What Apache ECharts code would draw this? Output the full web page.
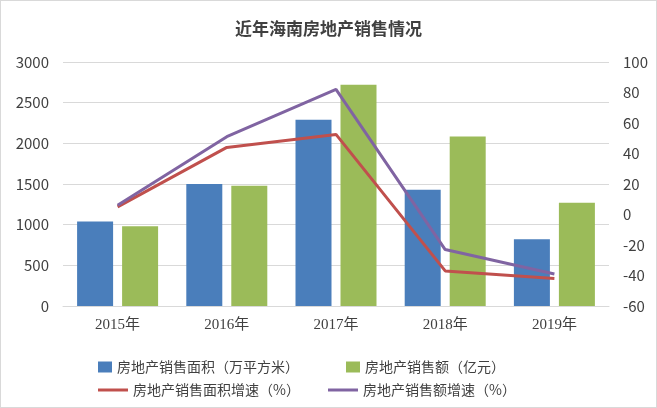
<!DOCTYPE html><html><head><meta charset="utf-8"><script src="https://cdn.jsdelivr.net/npm/echarts@6/dist/echarts.min.js"></script>
<style>html,body{margin:0;padding:0;background:#fff}#c{width:657px;height:408px;box-sizing:border-box;border:1px solid #d9d9d9}</style></head><body><div id="c"></div><script>
const categories=['2015年','2016年','2017年','2018年','2019年'];
const area=[1040,1500,2290,1430,820];
const sales=[980,1480,2720,2085,1270];
const areaGrowth=[5,44,52.5,-37,-42];
const salesGrowth=[6,51,82,-23,-39];
const ch=echarts.init(document.getElementById('c'));
const f='"Noto Sans CJK SC",sans-serif';
const lt={fontSize:14,color:'#404040'};
function lg(name,left,top,line){return {data:[name],left:left,top:top,itemWidth:line?30:14,itemHeight:line?3:11,icon:'rect',itemGap:8,textStyle:lt};}
ch.setOption({
 animation:false,
 textStyle:{fontFamily:f},
 title:{text:'近年海南房地产销售情况',left:'center',top:14,textStyle:{fontSize:17,fontWeight:'bold',color:'#404040',fontFamily:f}},
 grid:{left:62,right:47,top:61,bottom:101},
 legend:[lg('房地产销售面积（万平方米）',92,354,false),lg('房地产销售额（亿元）',340,354,false),
  lg('房地产销售面积增速（%）',92,377,true),lg('房地产销售额增速（%）',322,377,true)],
 xAxis:{type:'category',data:categories,axisTick:{show:false},axisLine:{lineStyle:{color:'#d9d9d9'}},axisLabel:{color:'#404040',fontSize:15,fontFamily:'"Liberation Serif","Noto Sans CJK SC",serif',margin:12}},
 yAxis:[{type:'value',min:0,max:3000,interval:500,axisLabel:{color:'#404040',fontSize:15,margin:14,formatter:v=>String(v)},splitLine:{lineStyle:{color:'#d9d9d9'}}},
  {type:'value',min:-60,max:100,interval:20,axisLabel:{color:'#404040',fontSize:15,margin:14},splitLine:{show:false}}],
 series:[
  {name:'房地产销售面积（万平方米）',type:'bar',data:area,barWidth:36,barGap:'25%',itemStyle:{color:'#4a7ebb'}},
  {name:'房地产销售额（亿元）',type:'bar',data:sales,barWidth:36,itemStyle:{color:'#9bbb59'}},
  {name:'房地产销售面积增速（%）',type:'line',yAxisIndex:1,data:areaGrowth,symbol:'none',lineStyle:{color:'#c0504d',width:3},itemStyle:{color:'#c0504d'}},
  {name:'房地产销售额增速（%）',type:'line',yAxisIndex:1,data:salesGrowth,symbol:'none',lineStyle:{color:'#8064a2',width:3},itemStyle:{color:'#8064a2'}}
 ]});
</script></body></html>
